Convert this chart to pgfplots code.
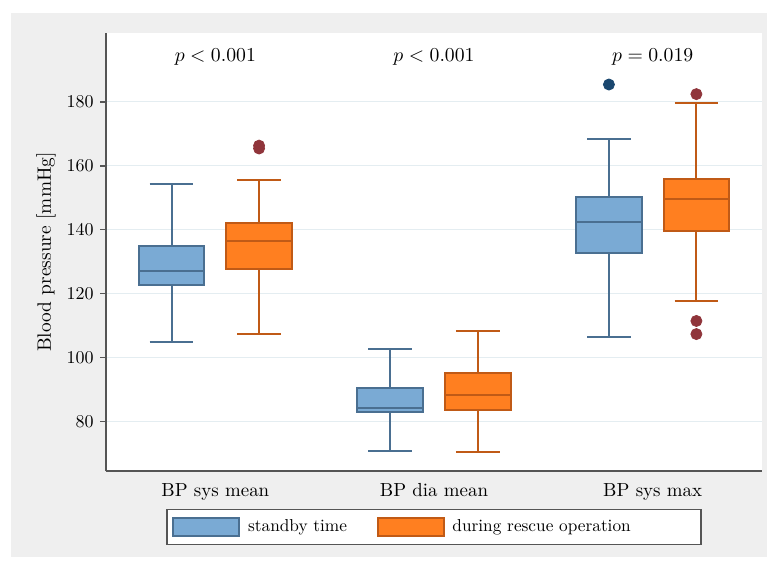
\documentclass[border=0pt]{standalone}
\usepackage{pgfplots}
\pgfplotsset{compat=1.18}
\definecolor{bfill}{RGB}{122,170,212}
\definecolor{bedge}{RGB}{74,111,145}
\definecolor{ofill}{RGB}{255,127,32}
\definecolor{oedge}{RGB}{192,90,22}
\definecolor{snavy}{RGB}{26,71,111}
\definecolor{smaroon}{RGB}{144,53,59}
\definecolor{bgc}{RGB}{239,239,239}
\definecolor{gridc}{RGB}{228,237,241}
\definecolor{axc}{RGB}{85,85,85}
\begin{document}
\begin{tikzpicture}
\fill[white] (-58.89pt,-51.67pt) rectangle (367.22pt,261.67pt);
\fill[bgc] (-52.78pt,-47.78pt) rectangle (367.22pt,254.44pt);
\fill[white] (0pt,0pt) rectangle (364.44pt,243.33pt);
\begin{axis}[
  at={(0pt,0pt)}, anchor=south west,
  scale only axis, width=364.44pt, height=243.33pt,
  xmin=0.5, xmax=3.5, ymin=64.6, ymax=201.5,
  axis x line*=bottom, axis y line*=left,
  axis line style={axc, line width=1.1pt},
  xtick={1,2,3}, xticklabels={BP sys mean, BP dia mean, BP sys max},
  x tick label style={font=\fontsize{10.5}{12}\selectfont},
  x tick style={draw=none},
  ytick={80,100,...,180},
  y tick style={axc, line width=0.8pt},
  tick align=outside, major tick length=3.3pt,
  ymajorgrids, grid style={gridc, line width=0.7pt},
  ylabel={Blood pressure [mmHg]},
  ylabel style={at={(axis description cs:-0.0915,0.5)}, anchor=center, font=\fontsize{10.75}{12}\selectfont},
  legend columns=2,
  legend style={at={(0.5,-0.128)}, anchor=center, draw=axc, line width=0.7pt, fill=white,
    font=\fontsize{9.6}{11}\selectfont, inner xsep=3pt, inner ysep=3.6pt,
    /tikz/every even column/.append style={column sep=14.5pt}},
  unbounded coords=jump,
  clip=false,
]
% ---- BP sys mean, standby: lw 104.9, q1 122.6, med 127.2, q3 134.8, uw 154.2
\addplot[draw=bedge, fill=bfill, line width=1.1pt, forget plot]
  coordinates {(0.65,122.6) (0.95,122.6) (0.95,134.8) (0.65,134.8)} -- cycle;
\addplot[draw=bedge, line width=1.1pt, forget plot] coordinates {
  (0.7,104.9) (0.9,104.9) (0.8,nan) (0.8,104.9) (0.8,122.6) (0.8,nan)
  (0.8,134.8) (0.8,154.2) (0.8,nan) (0.7,154.2) (0.9,154.2) (0.8,nan)
  (0.65,127.2) (0.95,127.2)};
% ---- BP sys mean, rescue: lw 107.4, q1 127.7, med 136.4, q3 142.0, uw 155.5
\addplot[draw=oedge, fill=ofill, line width=1.1pt, forget plot]
  coordinates {(1.05,127.7) (1.35,127.7) (1.35,142.0) (1.05,142.0)} -- cycle;
\addplot[draw=oedge, line width=1.1pt, forget plot] coordinates {
  (1.1,107.4) (1.3,107.4) (1.2,nan) (1.2,107.4) (1.2,127.7) (1.2,nan)
  (1.2,142.0) (1.2,155.5) (1.2,nan) (1.1,155.5) (1.3,155.5) (1.2,nan)
  (1.05,136.4) (1.35,136.4)};
% ---- BP dia mean, standby: lw 71.0, q1 83.0, med 84.2, q3 90.4, uw 102.8
\addplot[draw=bedge, fill=bfill, line width=1.1pt, forget plot]
  coordinates {(1.65,83.0) (1.95,83.0) (1.95,90.4) (1.65,90.4)} -- cycle;
\addplot[draw=bedge, line width=1.1pt, forget plot] coordinates {
  (1.7,71.0) (1.9,71.0) (1.8,nan) (1.8,71.0) (1.8,83.0) (1.8,nan)
  (1.8,90.4) (1.8,102.8) (1.8,nan) (1.7,102.8) (1.9,102.8) (1.8,nan)
  (1.65,84.2) (1.95,84.2)};
% ---- BP dia mean, rescue: lw 70.4, q1 83.7, med 88.4, q3 95.3, uw 108.4
\addplot[draw=oedge, fill=ofill, line width=1.1pt, forget plot]
  coordinates {(2.05,83.7) (2.35,83.7) (2.35,95.3) (2.05,95.3)} -- cycle;
\addplot[draw=oedge, line width=1.1pt, forget plot] coordinates {
  (2.1,70.4) (2.3,70.4) (2.2,nan) (2.2,70.4) (2.2,83.7) (2.2,nan)
  (2.2,95.3) (2.2,108.4) (2.2,nan) (2.1,108.4) (2.3,108.4) (2.2,nan)
  (2.05,88.4) (2.35,88.4)};
% ---- BP sys max, standby: lw 106.6, q1 132.8, med 142.3, q3 150.1, uw 168.3
\addplot[draw=bedge, fill=bfill, line width=1.1pt, forget plot]
  coordinates {(2.65,132.8) (2.95,132.8) (2.95,150.1) (2.65,150.1)} -- cycle;
\addplot[draw=bedge, line width=1.1pt, forget plot] coordinates {
  (2.7,106.6) (2.9,106.6) (2.8,nan) (2.8,106.6) (2.8,132.8) (2.8,nan)
  (2.8,150.1) (2.8,168.3) (2.8,nan) (2.7,168.3) (2.9,168.3) (2.8,nan)
  (2.65,142.3) (2.95,142.3)};
% ---- BP sys max, rescue: lw 117.6, q1 139.6, med 149.5, q3 156.0, uw 179.5
\addplot[draw=oedge, fill=ofill, line width=1.1pt, forget plot]
  coordinates {(3.05,139.6) (3.35,139.6) (3.35,156.0) (3.05,156.0)} -- cycle;
\addplot[draw=oedge, line width=1.1pt, forget plot] coordinates {
  (3.1,117.6) (3.3,117.6) (3.2,nan) (3.2,117.6) (3.2,139.6) (3.2,nan)
  (3.2,156.0) (3.2,179.5) (3.2,nan) (3.1,179.5) (3.3,179.5) (3.2,nan)
  (3.05,149.5) (3.35,149.5)};
% outliers
\addplot[forget plot, only marks, mark=*, mark size=3.1pt, mark options={draw=snavy, fill=snavy}]
  coordinates {(2.8,185.4)};
\addplot[forget plot, only marks, mark=*, mark size=3.1pt, mark options={draw=smaroon, fill=smaroon}]
  coordinates {(1.2,165.4) (1.2,166.3) (3.2,182.4) (3.2,111.5) (3.2,107.4)};
\addlegendimage{legend image code/.code={\draw[draw=bedge, fill=bfill, line width=1.1pt] (0pt,-5.2pt) rectangle (36.7pt,5.2pt); \path[draw=none, fill=none] (0pt,0pt) -- (39.5pt,0pt);}}
\addlegendentry{standby time}
\addlegendimage{legend image code/.code={\draw[draw=oedge, fill=ofill, line width=1.1pt] (0pt,-5.2pt) rectangle (36.7pt,5.2pt); \path[draw=none, fill=none] (0pt,0pt) -- (39.5pt,0pt);}}
\addlegendentry{during rescue operation\hspace*{34pt}}
\node[font=\fontsize{11}{13}\selectfont] at (axis cs:1,194) {$p < 0.001$};
\node[font=\fontsize{11}{13}\selectfont] at (axis cs:2,194) {$p < 0.001$};
\node[font=\fontsize{11}{13}\selectfont] at (axis cs:3,194) {$p = 0.019$};
\end{axis}
\end{tikzpicture}
\end{document}
